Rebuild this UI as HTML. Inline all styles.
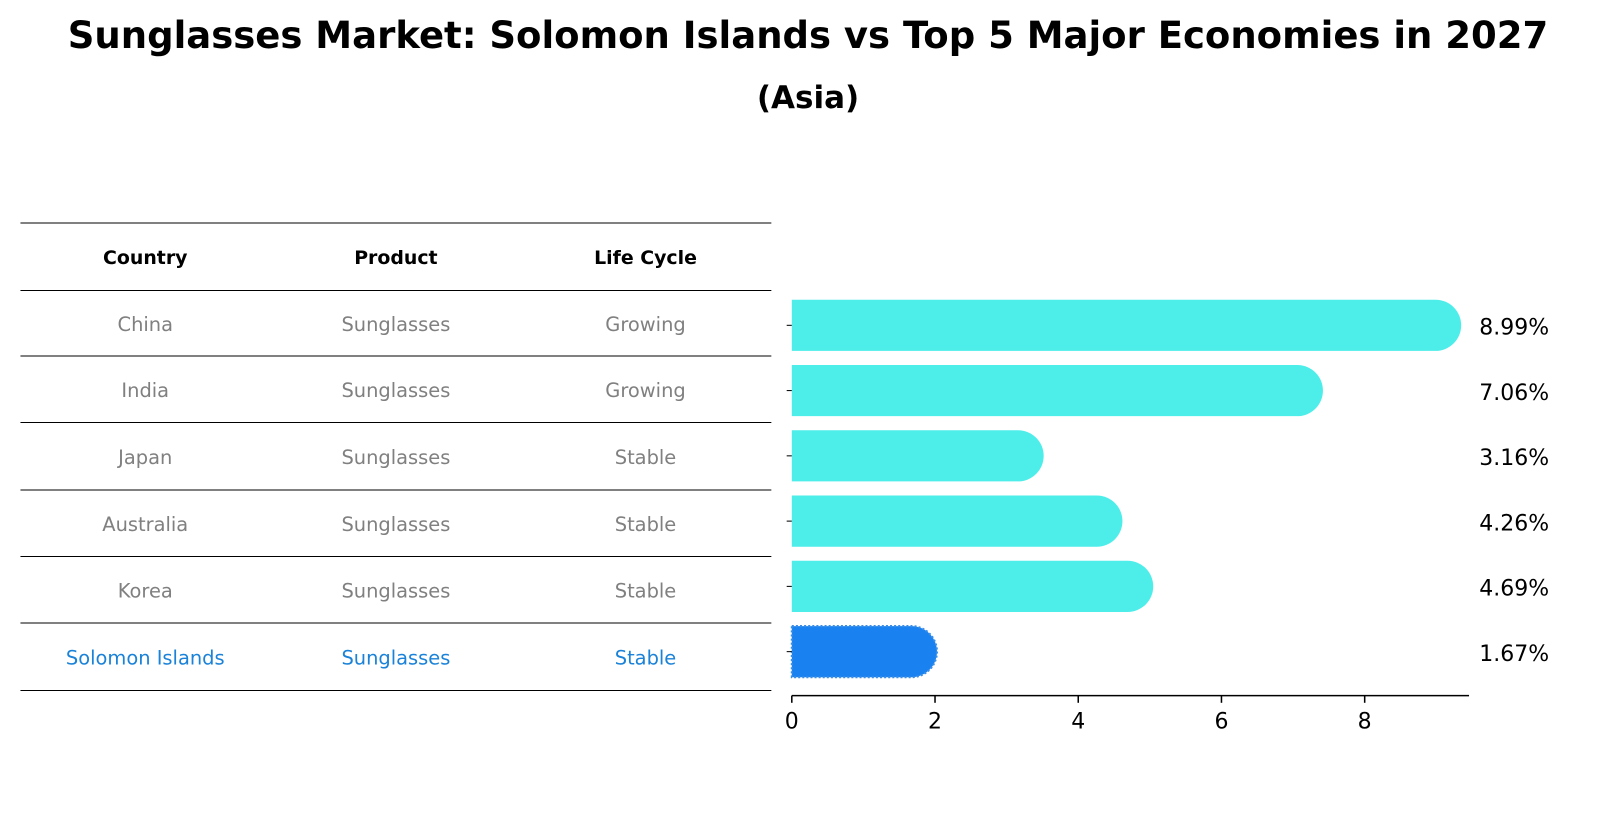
<!DOCTYPE html>
<html><head><meta charset="utf-8"><style>
body{margin:0;background:#fff;font-family:"Liberation Sans","DejaVu Sans",sans-serif;}
#wrap{position:relative;width:1604px;height:823px;overflow:hidden;}
.t{position:absolute;white-space:nowrap;}
</style></head><body>
<div id="wrap">
<div class="t" style="left:0;width:1616px;text-align:center;top:14px;font-size:37px;font-weight:bold;font-family:'DejaVu Sans',sans-serif;">Sunglasses Market: Solomon Islands vs Top 5 Major Economies in 2027</div>
<div class="t" style="left:0;width:1616px;text-align:center;top:80px;font-size:31px;font-weight:bold;font-family:'DejaVu Sans',sans-serif;">(Asia)</div>
<svg width="1604" height="823" style="position:absolute;left:0;top:0"><g id="svg" transform="scale(1.023)"></g></svg>
</div>
<script>
const countries=["China","India","Japan","Australia","Korea","Solomon Islands"];
const products=["Sunglasses","Sunglasses","Sunglasses","Sunglasses","Sunglasses","Sunglasses"];
const lifecycle=["Growing","Growing","Stable","Stable","Stable","Stable"];
const values=[8.99,7.06,3.16,4.26,4.69,1.67];
const ticks=[0,2,4,6,8];
const NS="http://www.w3.org/2000/svg";
const svg=document.getElementById('svg');
function mk(t,a,txt){const e=document.createElementNS(NS,t);for(const k in a)e.setAttribute(k,a[k]);if(txt!==undefined)e.textContent=txt;svg.appendChild(e);return e;}
const x0=774,sx=70;
const X=v=>x0+v*sx;
const rowY=i=>318+i*63.8;
const F="'DejaVu Sans',sans-serif";
const lines=[218,284,348,413,479,544,609,675];
lines.forEach((y,i)=>{const l=mk('line',{x1:20,x2:754,y1:y,y2:y,stroke:'#000','stroke-width':1});

});
const cols=[142,387,631];
["Country","Product","Life Cycle"].forEach((h,j)=>{const t=mk('text',{x:cols[j],y:258,'text-anchor':'middle','font-size':18.5,'font-weight':'bold','font-family':F},h);

});
countries.forEach((c,i)=>{const y=(lines[i+1]+lines[i+2])/2+7.5;const col=i==5?'#1a82d8':'#808080';
[c,products[i],lifecycle[i]].forEach((v,j)=>{const t=mk('text',{x:cols[j],y:y,'text-anchor':'middle','font-size':19,fill:col,'font-family':F},v);

});});
values.forEach((v,i)=>{const cy=rowY(i),r=25;const xe=X(v);
const d=`M${x0},${cy-r} L${xe},${cy-r} A${r},${r} 0 0 1 ${xe},${cy+r} L${x0},${cy+r} Z`;
const last=i==values.length-1;
const p=mk('path',{d:d,fill:last?'#1a82f0':'#4deeea',stroke:last?'#3a8ee8':'none','stroke-dasharray':last?'2,2':'','stroke-width':last?2:0});


const t=mk('text',{x:1446,y:cy+9,'font-size':21.5,'font-family':F},v.toFixed(2)+'%');


const tk=mk('line',{x1:x0-5,x2:x0,y1:cy,y2:cy,stroke:'#000','stroke-width':1});

});
const ax=mk('line',{x1:x0,x2:1436,y1:680,y2:680,stroke:'#000','stroke-width':1.5});


ticks.forEach(v=>{const l=mk('line',{x1:X(v),x2:X(v),y1:680,y2:687,stroke:'#000','stroke-width':1.5});


const t=mk('text',{x:X(v),y:712,'text-anchor':'middle','font-size':21.5,'font-family':F},v);

});
</script>
</body></html>
